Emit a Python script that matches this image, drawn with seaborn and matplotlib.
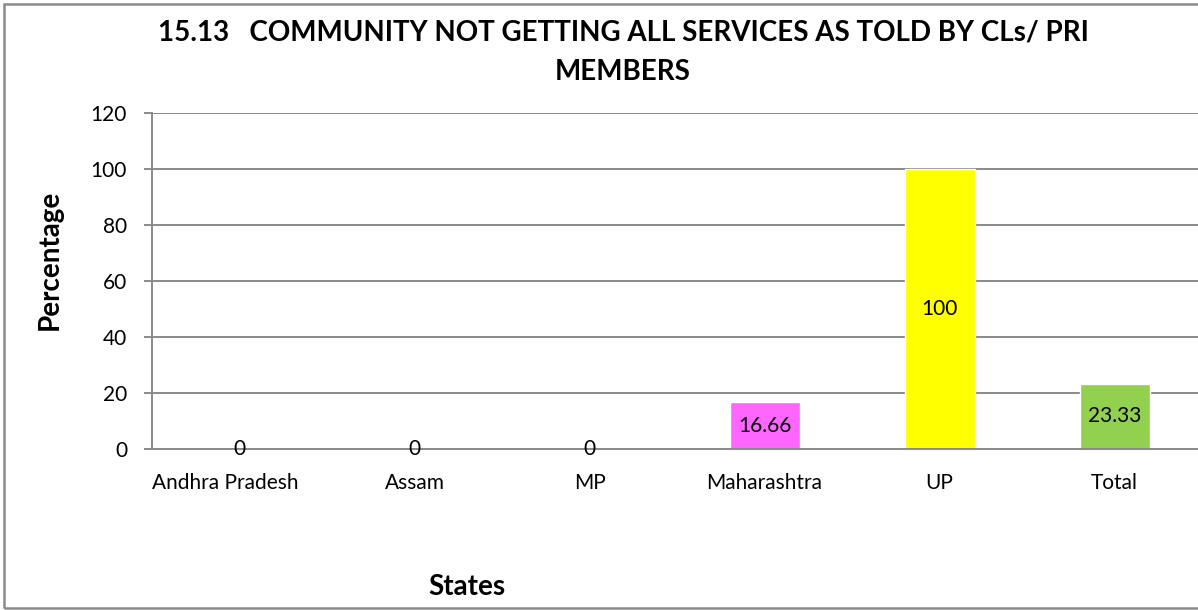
import matplotlib
matplotlib.use("Agg")
import matplotlib.pyplot as plt
import matplotlib.transforms as mtransforms
import seaborn as sns
import pandas as pd
from matplotlib.patches import Rectangle

states = ["Andhra Pradesh", "Assam", "MP", "Maharashtra", "UP", "Total"]
values = [0, 0, 0, 16.66, 100, 23.33]
labels = ["0", "0", "0", "16.66", "100", "23.33"]
colors = ["#4F81BD", "#4F81BD", "#4F81BD", "#FF66FF", "#FFFF00", "#92D050"]
yticks = [0, 20, 40, 60, 80, 100, 120]
title = "15.13   COMMUNITY NOT GETTING ALL SERVICES AS TOLD BY CLs/ PRI\nMEMBERS"

sns.set_theme(style="white")
plt.rcParams["font.family"] = ["Lato", "DejaVu Sans"]
plt.rcParams["text.color"] = "black"
plt.rcParams["xtick.color"] = "black"
plt.rcParams["ytick.color"] = "black"

df = pd.DataFrame({"State": states, "Value": values})

fig = plt.figure(figsize=(11.98, 6.10), dpi=100)
ax = fig.add_axes([152/1198, (610-449)/610, 1050/1198, 336/610])

grid_c = "#898989"
for t in yticks[1:]:
    ax.axhline(t, color=grid_c, lw=1.4, zorder=0)

sns.barplot(data=df, x="State", y="Value", hue="State", palette=colors,
            width=0.4, legend=False, ax=ax, zorder=2, saturation=1)

ax.set_ylim(0, 120)
ax.set_xlim(-0.5, len(states) - 0.5)
ax.set_yticks(yticks)
ax.set_yticklabels([str(t) for t in yticks], fontsize=15, color="black")
ax.tick_params(axis="y", length=6, width=1.4, color=grid_c, direction="out", pad=12,
               left=True, labelcolor="black")
ax.tick_params(axis="x", length=0, labelsize=15, pad=17, labelcolor="black")
ax.set_xlabel("")
ax.set_ylabel("")
for s in ["top", "right"]:
    ax.spines[s].set_visible(False)
for s in ["left", "bottom"]:
    ax.spines[s].set_color(grid_c)
    ax.spines[s].set_linewidth(1.4)
ax.spines["bottom"].set_zorder(3)

# first category label sits slightly left in the reference
first = ax.get_xticklabels()[0]
first.set_transform(first.get_transform() +
                    mtransforms.ScaledTranslation(-14/100, 0, fig.dpi_scale_trans))

for i, (v, lab) in enumerate(zip(values, labels)):
    ax.text(i, v / 2, lab, ha="center", va="center", fontsize=15, color="black", zorder=4)

fig.text(623/1198, 1 - 52/610, title, ha="center", va="center", fontsize=20,
         fontweight="bold", linespacing=1.65)
fig.text(50/1198, 1 - 260/610, "Percentage", ha="center", va="center", rotation=90,
         fontsize=20, fontweight="bold")
fig.text(467/1198, 1 - 587/610, "States", ha="center", va="center", fontsize=20,
         fontweight="bold")

fig.patches.append(Rectangle((4/1198, 2/610), 1.2, 604/610, transform=fig.transFigure,
                             fill=False, edgecolor="#8C8C8C", lw=1.8, zorder=10))

fig.savefig("out.png", dpi=100)
